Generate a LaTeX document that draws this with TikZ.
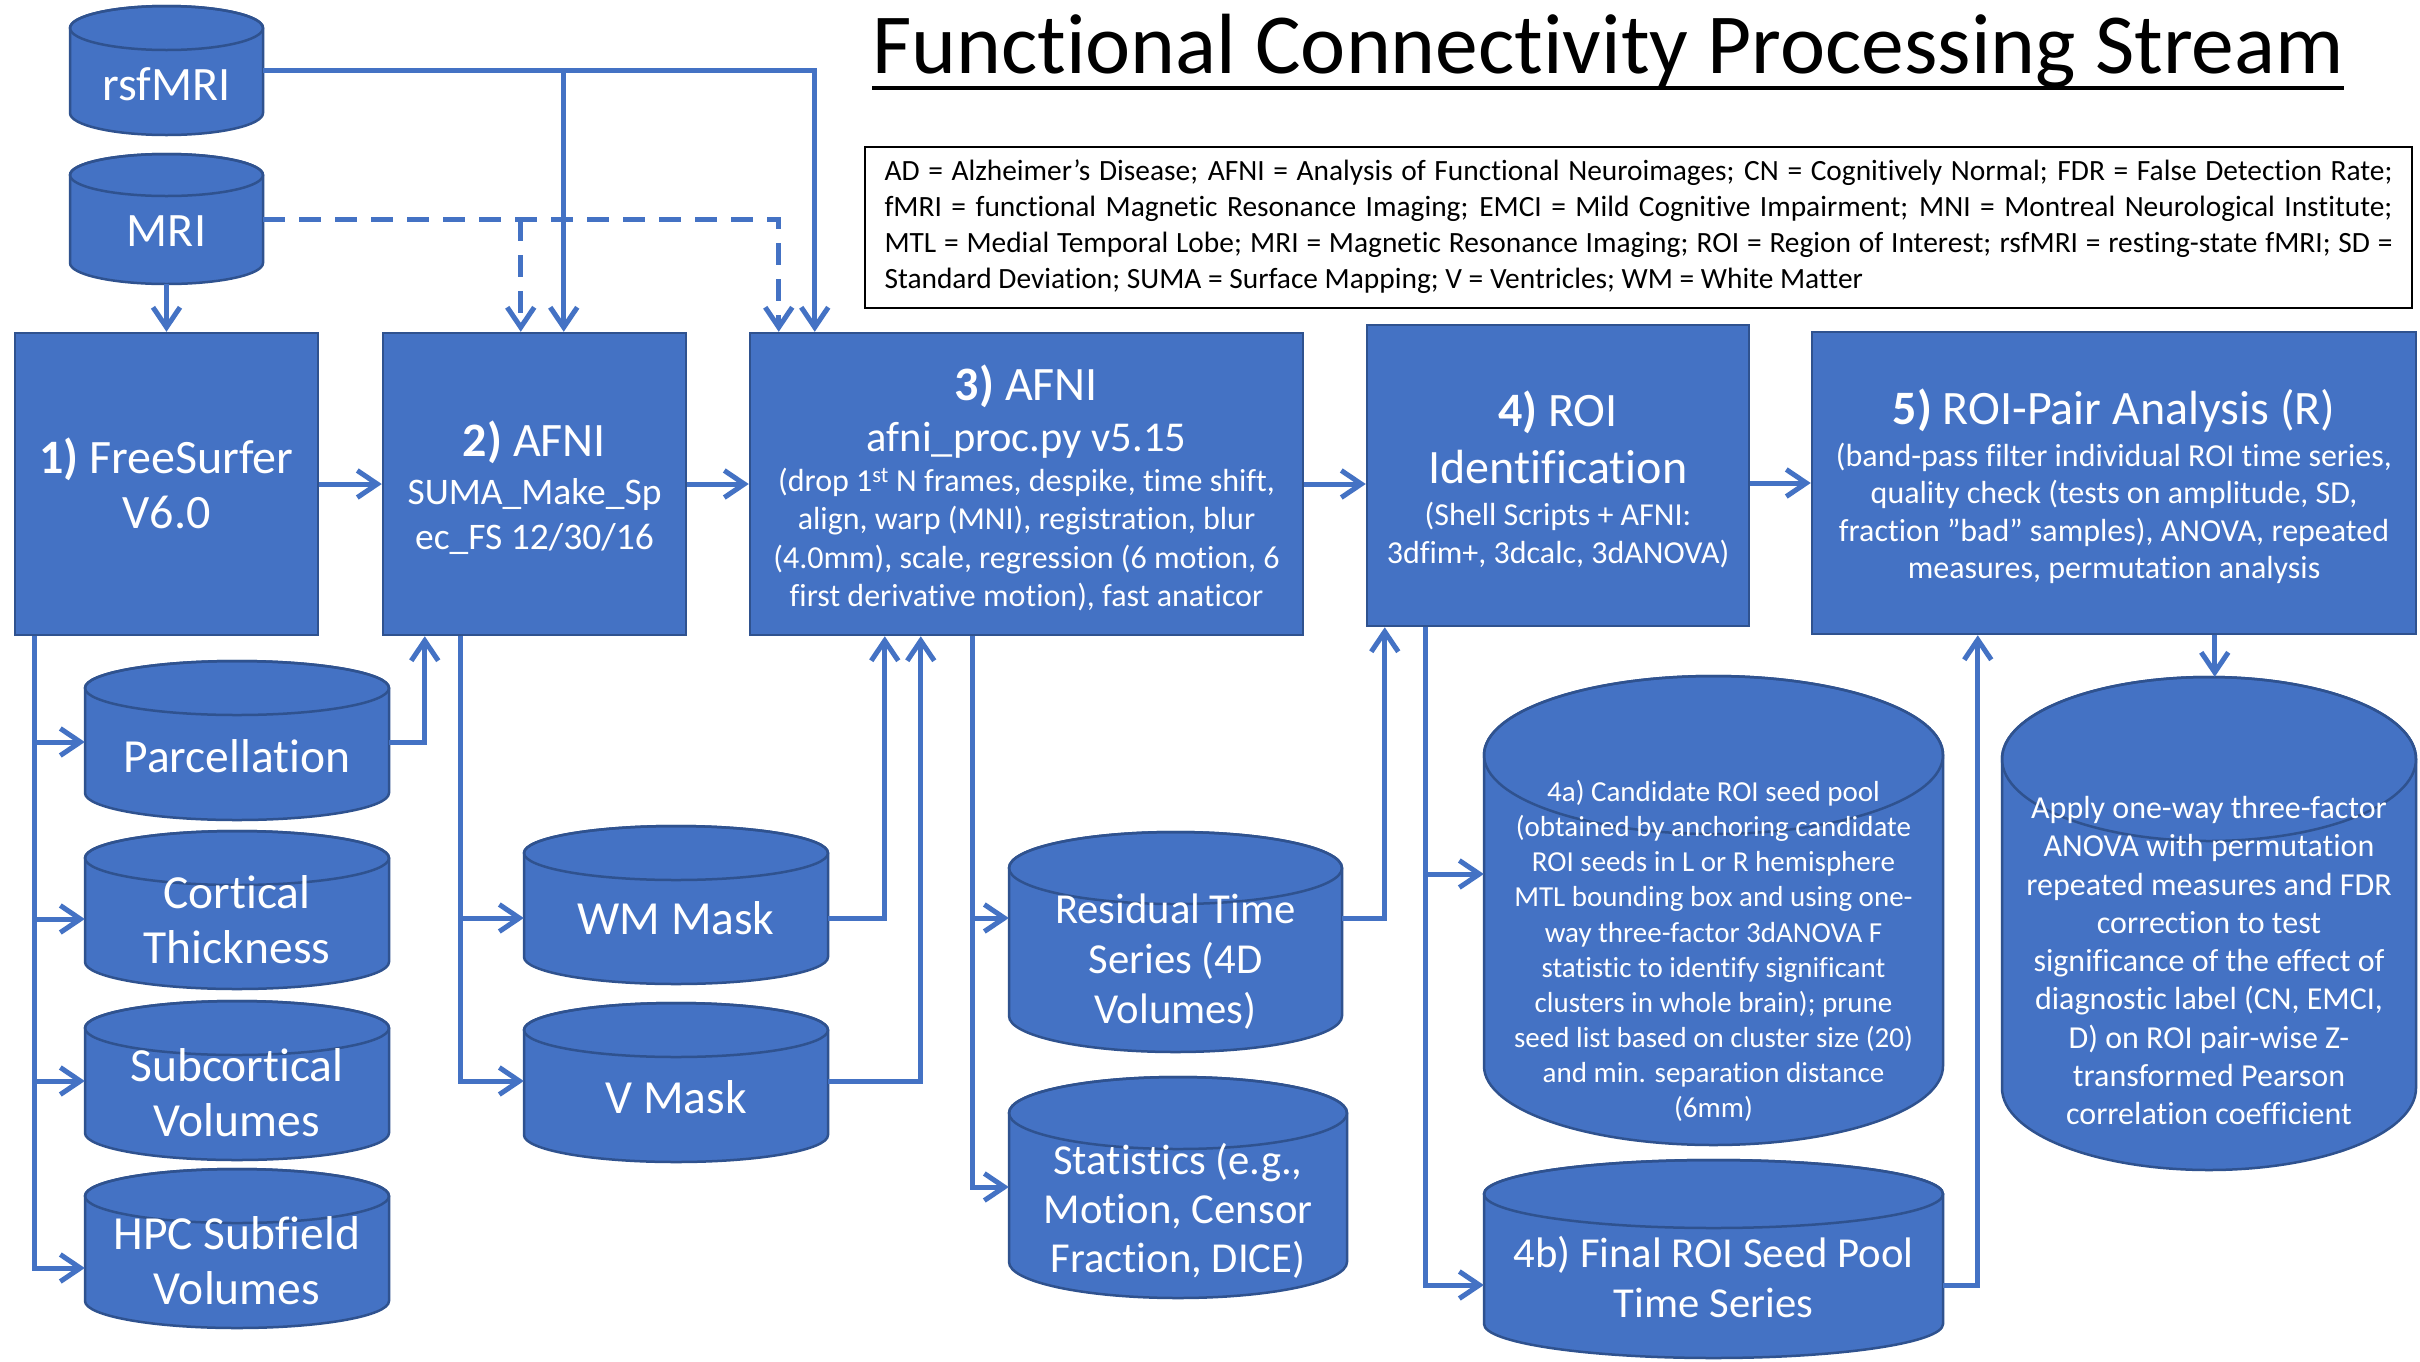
\documentclass[tikz,border=0pt]{standalone}
\usepackage{fontspec}
\setmainfont{Carlito}[Ligatures={NoCommon}]
\usetikzlibrary{arrows.meta}
\definecolor{fillb}{HTML}{4472C4}
\definecolor{edgeb}{HTML}{2F528F}
\definecolor{lineb}{HTML}{4472C4}
% cylinder: name, x-left, x-right, y-top, y-bottom, ellipse y-radius
\newcommand\drawcan[6]{%
  \pgfmathsetmacro\cylcx{(#2+#3)/2}%
  \pgfmathsetmacro\cylrx{(#3-#2)/2}%
  \pgfmathsetmacro\cylcy{(#4+#5)/2}%
  \pgfmathsetmacro\cylw{#3-#2}%
  \pgfmathsetmacro\cylh{#5-#4}%
  \path[canshape] (#2,#4+#6) -- (#2,#5-#6)
     arc[start angle=180,end angle=360,x radius=\cylrx pt,y radius=#6pt]
     -- (#3,#4+#6)
     arc[start angle=0,end angle=180,x radius=\cylrx pt,y radius=#6pt] -- cycle;
  \draw[canedge] (\cylcx,#4+#6) ellipse[x radius=\cylrx pt,y radius=#6pt];
  \node[canbox,minimum width=\cylw pt,minimum height=\cylh pt] (#1) at (\cylcx,\cylcy) {};
}
\begin{document}
\begin{tikzpicture}[x=1pt,y=-1pt,
  box/.style={rectangle,fill=fillb,draw=edgeb,line width=2.5pt,inner sep=0pt},
  canshape/.style={fill=fillb,draw=edgeb,line width=2.5pt},
  canedge/.style={draw=edgeb,line width=2.5pt},
  canbox/.style={rectangle,inner sep=0pt,draw=none},
  txt/.style={text=white,align=center,inner sep=0pt},
  fsz/.style 2 args={font={\fontsize{#1}{#2}\selectfont\lineskiplimit=-1000pt}},
  link/.style={draw=lineb,line width=5pt},
  arr/.style={link,-{Straight Barb[length=20pt,width=27pt]}},
  dsh/.style={dash pattern=on 22pt off 14pt}]
\useasboundingbox (0,0) rectangle (2420,1361);
\fill[white] (0,0) rectangle (2420,1361);

% title and legend
\node[anchor=base west,inner sep=0pt,fsz={85.5}{100}] (title) at (872,73) {Functional Connectivity Processing Stream};
\draw[line width=4.5pt] ([yshift=-15pt]title.base west) -- ([yshift=-15pt]title.base east);
\node[draw=black,line width=2pt,minimum width=1547pt,minimum height=161pt,inner sep=0pt,align=left,fsz={29.4}{36}] (legend) at (1638.5,227)
 {\makebox[1508pt][s]{AD = Alzheimer’s Disease; AFNI = Analysis of Functional Neuroimages; CN = Cognitively Normal; FDR = False Detection Rate;}\\
  \makebox[1508pt][s]{fMRI = functional Magnetic Resonance Imaging; EMCI = Mild Cognitive Impairment; MNI = Montreal Neurological Institute;}\\
  \makebox[1508pt][s]{MTL = Medial Temporal Lobe; MRI = Magnetic Resonance Imaging; ROI = Region of Interest; rsfMRI = resting-state fMRI; SD =}\\
  Standard Deviation; SUMA = Surface Mapping; V = Ventricles; WM = White Matter};

% boxes
\node[box,minimum width=303pt,minimum height=302pt] (fs) at (166.5,484) {};
\node[box,minimum width=303pt,minimum height=302pt] (b2) at (534.5,484) {};
\node[box,minimum width=553pt,minimum height=302pt] (b3) at (1026.5,484) {};
\node[box,minimum width=382pt,minimum height=301pt] (b4) at (1558,475.5) {};
\node[box,minimum width=604pt,minimum height=302pt] (b5) at (2114,483) {};

% cylinders
\drawcan{rsf}{70}{263}{6}{135}{22}
\drawcan{mri}{70}{263}{154}{284}{21}
\drawcan{parc}{85}{389}{661}{820}{27}
\drawcan{cort}{85}{389}{831}{989}{27}
\drawcan{subc}{85}{389}{1001}{1160}{27}
\drawcan{hpc}{85}{389}{1169}{1328}{27}
\drawcan{wm}{524}{828}{826}{984}{27}
\drawcan{vm}{524}{828}{1003}{1162}{27}
\drawcan{resid}{1009}{1342}{832}{1052}{36}
\drawcan{stats}{1009}{1347}{1077}{1298}{36}
\drawcan{roia}{1484}{1943}{676}{1145}{79}
\drawcan{roib}{1484}{1943}{1160}{1358}{34}
\drawcan{anova}{2002}{2416}{677}{1170}{82}

% connector points
\coordinate (b2a) at ([xshift=139pt]b2.north west);
\coordinate (b2b) at ([xshift=182pt]b2.north west);
\coordinate (b3a) at ([xshift=30pt]b3.north west);
\coordinate (b3b) at ([xshift=66pt]b3.north west);
\coordinate (fsout) at ([xshift=21pt]fs.south west);
\coordinate (b2in) at ([xshift=43pt]b2.south west);
\coordinate (b2out) at ([xshift=79pt]b2.south west);
\coordinate (b3in1) at ([xshift=136pt]b3.south west);
\coordinate (b3in2) at ([xshift=172pt]b3.south west);
\coordinate (b3out) at ([xshift=224pt]b3.south west);
\coordinate (b4in) at ([xshift=19pt]b4.south west);
\coordinate (b4out) at ([xshift=60pt]b4.south west);
\coordinate (b5in) at ([xshift=167pt]b5.south west);
\coordinate (b5out) at ([xshift=404pt]b5.south west);
\coordinate (parcin) at ([yshift=-1.5pt]parc.west);
\coordinate (cortin) at ([yshift=-9pt]cort.west);
\coordinate (subcin) at ([yshift=-0.5pt]subc.west);
\coordinate (hpcin) at ([yshift=-19.5pt]hpc.west);
\coordinate (wmin) at ([yshift=-13pt]wm.west);
\coordinate (vmin) at ([yshift=1.5pt]vm.west);
\coordinate (resin) at ([yshift=24pt]resid.west);
\coordinate (statin) at ([yshift=0.5pt]stats.west);
\coordinate (roiain) at ([yshift=36.5pt]roia.west);
\coordinate (roibin) at ([yshift=-26pt]roib.west);

% top inputs
\draw[arr,dsh] (mri.east) -| (b3a);
\draw[arr,dsh] (mri.east -| b2a) -- (b2a);
\draw[arr] (rsf.east) -| (b3b);
\draw[arr] (rsf.east -| b2b) -- (b2b);
\draw[arr] (mri.south) -- (fs.north);

% main chain
\draw[arr] (fs.east) -- (fs.east -| b2.west);
\draw[arr] (b2.east) -- (b2.east -| b3.west);
\draw[arr] (b3.east) -- (b3.east -| b4.west);
\draw[arr] (b5.west -| b4.east) -- (b5.west);

% FreeSurfer outputs
\draw[arr] (fsout) |- (hpcin);
\draw[arr] (fsout |- parcin) -- (parcin);
\draw[arr] (fsout |- cortin) -- (cortin);
\draw[arr] (fsout |- subcin) -- (subcin);
\draw[arr] (parcin -| parc.east) -| (b2in);

% AFNI SUMA outputs
\draw[arr] (b2out) |- (vmin);
\draw[arr] (b2out |- wmin) -- (wmin);
\draw[arr] (wmin -| wm.east) -| (b3in1);
\draw[arr] (vmin -| vm.east) -| (b3in2);

% afni_proc outputs
\draw[arr] (b3out) |- (statin);
\draw[arr] (b3out |- resin) -- (resin);
\draw[arr] (resin -| resid.east) -| (b4in);

% ROI identification
\draw[arr] (b4out) |- (roibin);
\draw[arr] (b4out |- roiain) -- (roiain);
\draw[arr] (roibin -| roib.east) -| (b5in);
\draw[arr] (b5out) -- (b5out |- anova.north);

% texts
\node[txt,fsz={48}{55}] (rsf-t) at (166.5,84) {rsfMRI};
\node[txt,fsz={48}{55}] (mri-t) at (166.5,231) {MRI};
\node[txt,fsz={48}{55}] (fs-t) at (166.5,483) {\textbf{1)} FreeSurfer\\V6.0};
\node[txt,fsz={37.5}{45}] (b2-t) at (534.5,488) {{\fontsize{48}{55}\selectfont\textbf{2)} AFNI}\\[3pt]SUMA\_Make\_Sp\\ec\_FS 12/30/16};
\node[txt,fsz={32}{38.5}] (b3-t) at (1026.5,488) {{\fontsize{48}{55}\selectfont\textbf{3)} AFNI}\\[12.5pt]{\fontsize{42.5}{48}\selectfont afni\_proc.py v5.15}\\[1.5pt](drop 1\textsuperscript{st} N frames, despike, time shift,\\align, warp (MNI), registration, blur\\(4.0mm), scale, regression (6 motion, 6\\first derivative motion), fast anaticor};
\node[txt,fsz={32}{38}] (b4-t) at (1558,479) {{\fontsize{48}{55}\selectfont\textbf{4)} ROI}\\[19pt]{\fontsize{48}{55}\selectfont Identification}\\[4pt](Shell Scripts + AFNI:\\3dfim+, 3dcalc, 3dANOVA)};
\node[txt,fsz={32}{37.5}] (b5-t) at (2114,486.5) {{\fontsize{48}{55}\selectfont\textbf{5)} ROI-Pair Analysis (R)}\\[4.5pt](band-pass filter individual ROI time series,\\quality check (tests on amplitude, SD,\\fraction ”bad” samples), ANOVA, repeated\\measures, permutation analysis};
\node[txt,fsz={47.5}{55}] (parc-t) at (237,756) {Parcellation};
\node[txt,fsz={47.5}{55}] (cort-t) at (237,920) {Cortical\\Thickness};
\node[txt,fsz={47.5}{55}] (subc-t) at (237,1093) {Subcortical\\Volumes};
\node[txt,fsz={47.5}{55}] (hpc-t) at (237,1261) {HPC Subfield\\Volumes};
\node[txt,fsz={47.5}{55}] (wm-t) at (676,918) {WM Mask};
\node[txt,fsz={47.5}{55}] (vm-t) at (676,1097) {V Mask};
\node[txt,fsz={42.7}{50}] (resid-t) at (1175.5,961.5) {Residual Time\\Series (4D\\Volumes)};
\node[txt,fsz={42.7}{49}] (stats-t) at (1178,1210.5) {Statistics (e.g.,\\Motion, Censor\\Fraction, DICE)};
\node[txt,fsz={29}{35.1}] (roia-t) at (1713.5,951) {4a) Candidate ROI seed pool\\(obtained by anchoring candidate\\ROI seeds in L or R hemisphere\\MTL bounding box and using one-\\way three-factor 3dANOVA F\\statistic to identify significant\\clusters in whole brain); prune\\seed list based on cluster size (20)\\and min. separation distance\\(6mm)};
\node[txt,fsz={42.7}{50}] (roib-t) at (1713.5,1277) {4b) Final ROI Seed Pool\\Time Series};
\node[txt,fsz={32}{38.25}] (anova-t) at (2209,960.5) {Apply one-way three-factor\\ANOVA with permutation\\repeated measures and FDR\\correction to test\\significance of the effect of\\diagnostic label (CN, EMCI,\\D) on ROI pair-wise Z-\\transformed Pearson\\correlation coefficient};
\end{tikzpicture}
\end{document}
